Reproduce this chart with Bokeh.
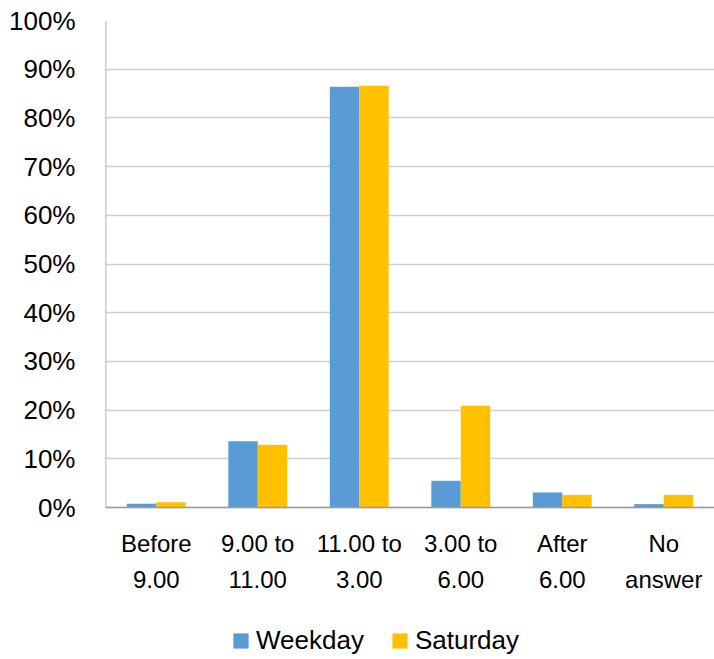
from bokeh.plotting import figure
from bokeh.models import ColumnDataSource, FactorRange, Legend, LegendItem
from bokeh.core.properties import value
from bokeh.transform import dodge
from bokeh.embed import file_html
from bokeh.resources import INLINE

# Time of day categories and share of respondents (%)
categories = ["Before 9.00", "9.00 to 11.00", "11.00 to 3.00", "3.00 to 6.00", "After 6.00", "No answer"]
category_labels = ["Before\n9.00", "9.00 to\n11.00", "11.00 to\n3.00", "3.00 to\n6.00", "After\n6.00", "No\nanswer"]
weekday = [0.8, 13.6, 86.4, 5.5, 3.1, 0.7]
saturday = [1.1, 12.9, 86.6, 20.9, 2.6, 2.6]
y_ticks = [0, 10, 20, 30, 40, 50, 60, 70, 80, 90, 100]

FONT = "Liberation Sans"
BLUE = "#5B9BD5"
GOLD = "#FFC000"
AXIS = "#9a9a9a"

source = ColumnDataSource(dict(cat=categories, weekday=weekday, saturday=saturday,
                               label=category_labels, label_y=[-4.6] * len(categories)))

# The plot frame runs down to the bottom of the canvas; the space below 0%
# holds the two-line category names and the legend.
p = figure(
    x_range=FactorRange(*categories, range_padding=0),
    y_range=(-31.2, 100),
    width=714, height=659,
    output_backend="svg", toolbar_location=None,
    min_border_left=105, min_border_right=0, min_border_top=20, min_border_bottom=0,
    outline_line_color=None,
)

bw = 0.29
r1 = p.vbar(x=dodge("cat", -bw / 2, range=p.x_range), top="weekday", width=bw,
            source=source, fill_color=BLUE, line_color=None)
r2 = p.vbar(x=dodge("cat", bw / 2, range=p.x_range), top="saturday", width=bw,
            source=source, fill_color=GOLD, line_color=None)

# Axis lines (value axis from 0% to 100%, category axis along 0%)
n = len(categories)
p.segment(x0=[0, 0], y0=[0, 0], x1=[0, n], y1=[100, 0], line_color=AXIS, line_width=1.5)

# Category names
p.text(x="cat", y="label_y", text="label", source=source,
       text_font=value(FONT), text_font_size="24px", text_color="#000000",
       text_align="center", text_baseline="top", text_line_height=1.35)

# Value axis labels
p.xaxis.visible = False
p.yaxis.ticker = y_ticks
p.yaxis.major_label_overrides = {t: f"{t}%" for t in y_ticks}
p.yaxis.axis_line_color = None
p.yaxis.major_tick_line_color = None
p.yaxis.minor_tick_line_color = None
p.yaxis.major_label_text_font = FONT
p.yaxis.major_label_text_color = "#000000"
p.yaxis.major_label_text_font_size = "26px"
p.yaxis.major_label_standoff = 24

p.xgrid.grid_line_color = None
p.ygrid.grid_line_color = "#d0d0d0"
p.ygrid.grid_line_width = 1.5

legend = Legend(
    items=[LegendItem(label="Weekday", renderers=[r1]), LegendItem(label="Saturday", renderers=[r2])],
    orientation="horizontal",
    location=(126, 3),
    label_text_font=FONT, label_text_font_size="26px", label_text_color="#000000",
    glyph_width=19, glyph_height=19, label_standoff=6, spacing=26,
    padding=0, margin=0, border_line_color=None, background_fill_alpha=0,
)
p.add_layout(legend, "center")

open("out.html", "w").write(file_html(p, INLINE))
